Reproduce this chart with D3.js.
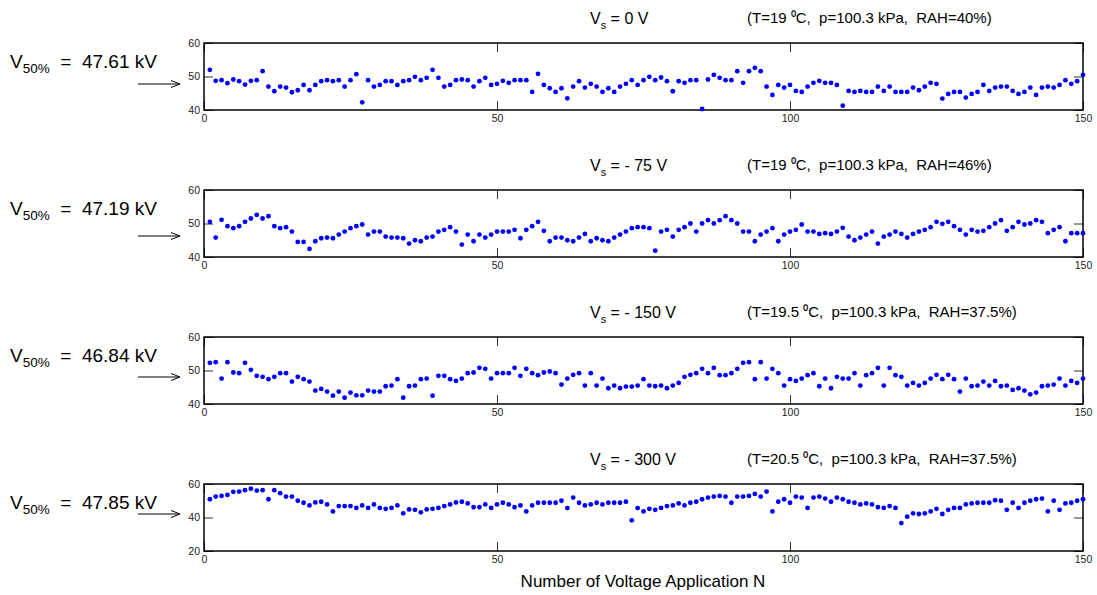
<!DOCTYPE html>
<html>
<head>
<meta charset="utf-8">
<script src="https://cdn.jsdelivr.net/npm/d3@7/dist/d3.min.js"></script>
<style>
  body { margin: 0; background: #fff; }
  svg { font-family: "Liberation Sans", Arial, sans-serif; }
  text { white-space: pre; }
  .tick text { font-size: 10.5px; fill: #222; }
  .domain { display: none; }
  .tick line { stroke: #333; }
</style>
</head>
<body>
<svg id="chart" width="1097" height="595"></svg>
<script>
  // breakdown voltage per application (kV)
  var v0 = [52.0,48.7,48.9,48.0,49.1,48.6,47.6,48.7,48.9,51.6,47.0,45.6,47.0,46.7,45.3,45.9,47.5,45.9,47.5,48.6,
    48.9,48.6,48.9,47.0,48.9,50.7,42.3,48.9,47.0,47.5,48.6,48.6,47.5,48.6,48.9,49.9,48.9,49.6,52.0,49.6,
    47.0,47.5,48.9,49.1,48.9,47.0,48.6,49.6,47.5,47.8,48.7,48.1,48.9,48.9,48.9,45.4,50.8,47.5,46.5,45.4,
    46.5,43.5,47.0,48.6,46.7,47.8,47.0,45.4,46.5,45.4,47.0,47.8,48.9,47.5,48.9,49.9,48.9,49.7,48.6,45.6,
    48.6,48.1,48.9,48.9,40.3,49.1,50.5,49.6,48.9,48.9,51.6,48.1,51.6,52.6,51.6,47.0,44.5,47.5,46.7,47.5,
    45.7,45.4,47.0,48.1,48.7,48.1,48.1,47.5,41.3,45.7,45.4,45.7,45.4,45.4,47.0,45.7,47.0,45.4,45.4,45.4,
    46.7,45.9,47.0,48.1,47.8,43.4,44.8,45.4,45.4,43.7,44.8,45.4,47.5,45.7,46.7,47.0,47.0,45.7,44.8,45.4,
    46.7,44.5,46.7,47.0,46.7,47.5,48.9,47.8,48.6,50.5];
  var v75 = [50.5,45.8,51.1,49.2,48.6,49.2,50.5,51.5,52.6,51.5,52.2,49.2,48.6,48.9,47.6,44.5,44.5,42.4,44.7,45.6,
    45.8,45.6,46.7,47.6,48.6,49.2,49.7,46.7,47.6,47.6,46.1,45.8,45.8,45.6,44.0,45.0,44.7,45.8,46.1,47.6,
    48.1,48.9,47.6,43.7,46.7,44.7,46.7,45.8,46.7,47.6,47.6,47.6,48.1,45.6,48.1,49.2,50.5,47.8,44.7,45.8,
    45.8,45.0,44.7,45.8,46.9,44.7,45.6,45.0,44.7,45.8,46.7,47.6,48.6,48.9,48.9,48.6,41.9,47.6,48.1,46.1,
    48.1,48.9,50.0,47.6,50.0,51.0,50.0,51.0,52.2,51.0,50.0,47.6,47.6,44.7,46.7,47.6,48.6,44.7,46.7,47.6,
    48.1,49.7,47.6,47.6,46.9,47.1,46.9,47.6,48.7,46.1,45.0,45.8,46.7,47.6,44.0,46.1,46.7,47.6,46.9,45.8,
    46.9,47.6,48.1,48.9,50.5,49.9,50.5,49.2,48.1,46.7,48.1,47.6,47.8,48.9,50.0,51.0,47.8,48.9,50.5,49.7,
    50.0,51.0,50.5,47.1,48.1,48.9,44.7,47.1,47.1,47.1];
  var v150 = [52.3,52.5,47.6,52.5,49.4,49.2,52.3,50.2,48.4,48.1,47.4,48.1,49.2,49.2,46.7,48.1,47.4,46.7,44.0,44.5,
    43.7,42.5,43.7,41.9,43.4,42.6,42.6,44.0,43.7,43.7,45.3,45.5,47.4,41.9,45.3,45.5,47.4,47.6,42.5,48.4,
    48.4,47.4,46.9,47.6,49.2,49.4,50.8,50.5,47.6,49.2,49.2,49.2,50.8,48.4,50.5,49.2,48.6,49.4,49.7,49.2,
    45.8,47.6,48.7,49.2,45.5,49.2,45.5,47.6,44.7,45.5,44.7,45.2,45.2,45.5,47.4,45.5,45.3,45.5,44.7,45.5,
    46.3,48.1,48.7,49.2,50.5,49.2,50.8,48.6,48.6,49.2,50.5,52.3,52.5,47.4,52.5,47.6,50.5,49.2,45.5,47.4,
    46.9,47.6,48.6,49.2,45.3,47.6,44.7,48.1,47.6,47.6,49.2,45.5,48.6,49.2,50.8,45.5,50.8,48.6,48.1,45.5,
    46.3,45.5,46.3,47.6,48.7,47.4,48.7,47.4,43.7,47.6,45.3,45.5,46.7,45.5,46.9,45.3,45.5,44.2,44.7,44.0,
    42.9,43.4,45.3,45.5,45.8,47.6,45.5,46.9,46.3,47.6];
  var v300 = [50.9,52.5,52.9,53.5,55.3,55.5,56.3,57.2,56.1,56.3,50.9,56.3,54.5,52.5,52.5,50.0,48.8,47.2,49.0,49.4,
    47.8,43.6,46.8,46.8,46.8,45.8,47.2,45.8,47.8,45.8,45.2,45.8,47.2,42.5,44.8,44.6,43.1,44.8,45.2,45.8,
    46.8,47.8,49.0,49.4,48.4,46.2,46.2,47.8,45.8,47.8,48.8,47.8,46.2,47.2,43.6,47.2,48.8,48.8,48.8,48.8,
    50.0,45.6,51.9,48.8,47.2,47.8,48.8,47.8,48.8,48.8,48.8,49.4,38.3,45.6,43.6,45.2,44.6,45.8,46.8,47.2,
    48.4,47.2,48.8,49.4,50.9,51.9,52.5,52.9,52.5,48.8,52.5,52.5,52.9,54.1,52.5,55.5,43.6,49.4,50.9,48.8,
    52.5,51.9,45.8,51.9,52.5,51.3,49.4,51.9,50.9,49.4,48.8,47.8,48.4,47.8,46.2,45.8,46.8,45.8,36.7,40.5,
    42.5,42.1,42.5,43.6,45.2,42.1,44.6,45.8,45.8,47.8,48.4,48.8,48.8,48.8,50.3,50.0,44.6,48.8,45.8,48.8,
    50.0,50.9,51.3,43.6,50.0,44.6,48.4,48.8,50.0,50.9];

  var seriesList = [v0, v75, v150, v300];
  var vsLabels = ["0 V", "- 75 V", "- 150 V", "- 300 V"];
  var conditions = ["(T=19 \u2070C,  p=100.3 kPa,  RAH=40%)",
                    "(T=19 \u2070C,  p=100.3 kPa,  RAH=46%)",
                    "(T=19.5 \u2070C,  p=100.3 kPa,  RAH=37.5%)",
                    "(T=20.5 \u2070C,  p=100.3 kPa,  RAH=37.5%)"];
  var v50Labels = ["47.61 kV", "47.19 kV", "46.84 kV", "47.85 kV"];
  var yDomains = [[40, 60], [40, 60], [40, 60], [20, 60]];
  var yTicks = [[40, 50, 60], [40, 50, 60], [40, 50, 60], [20, 40, 60]];
  var xTicks = [0, 50, 100, 150];
  var arrowY = [84, 236, 377, 514];

  var svg = d3.select("#chart");
  var left = 204, right = 1083, panelH = 67;
  var tops = [43, 190, 337, 484];

  var x = d3.scaleLinear().domain([0, 150]).range([left, right]);

  seriesList.forEach(function(data, p) {
    var top = tops[p];
    var y = d3.scaleLinear().domain(yDomains[p]).range([top + panelH, top]);
    var g = svg.append("g").attr("class", "panel");

    g.append("g")
      .attr("transform", "translate(0," + (top + panelH) + ")")
      .call(d3.axisBottom(x).tickValues(xTicks).tickSize(-9).tickPadding(5));
    g.append("g")
      .attr("transform", "translate(0," + top + ")")
      .call(d3.axisTop(x).tickValues(xTicks).tickSize(-9).tickFormat(""));
    g.append("g")
      .attr("transform", "translate(" + left + ",0)")
      .call(d3.axisLeft(y).tickValues(yTicks[p]).tickSize(-9).tickPadding(4));
    g.append("g")
      .attr("transform", "translate(" + right + ",0)")
      .call(d3.axisRight(y).tickValues(yTicks[p]).tickSize(-9).tickFormat(""));

    g.append("rect")
      .attr("x", left).attr("y", top)
      .attr("width", right - left).attr("height", panelH)
      .attr("fill", "none").attr("stroke", "#000").attr("stroke-width", 1.5);

    g.selectAll(".dot")
      .data(data)
      .enter().append("circle")
      .attr("class", "dot")
      .attr("cx", function(d, i) { return x(i + 1); })
      .attr("cy", function(d) { return y(d); })
      .attr("r", 2.4)
      .attr("fill", "#0000ff");

    // title
    var t = g.append("text")
      .attr("x", 590).attr("y", top - 19)
      .attr("font-size", 16).attr("fill", "#000");
    t.append("tspan").text("V");
    t.append("tspan").attr("dy", 5).attr("font-size", 11).text("s");
    t.append("tspan").attr("dy", -5).text(" = " + vsLabels[p]);

    g.append("text")
      .attr("x", 747).attr("y", top - 20)
      .attr("font-size", 15).attr("fill", "#000")
      .text(conditions[p]);

    var lt = g.append("text")
      .attr("x", 10).attr("y", top + 25)
      .attr("font-size", 19).attr("fill", "#000");
    lt.append("tspan").text("V");
    lt.append("tspan").attr("dy", 5).attr("font-size", 13.5).text("50%");
    lt.append("tspan").attr("dy", -5).text("  =  " + v50Labels[p]);

    g.append("line")
      .attr("x1", 138).attr("x2", 179)
      .attr("y1", arrowY[p]).attr("y2", arrowY[p])
      .attr("stroke", "#000").attr("stroke-width", 1);
    g.append("path")
      .attr("d", "M171," + (arrowY[p] - 3.5) + "L180," + arrowY[p] + "L171," + (arrowY[p] + 3.5))
      .attr("fill", "none").attr("stroke", "#000").attr("stroke-width", 1);
  });

  svg.append("text")
    .attr("x", 643).attr("y", 587)
    .attr("text-anchor", "middle")
    .attr("font-size", 17).attr("fill", "#000")
    .text("Number of Voltage Application N");
</script>
</body>
</html>
